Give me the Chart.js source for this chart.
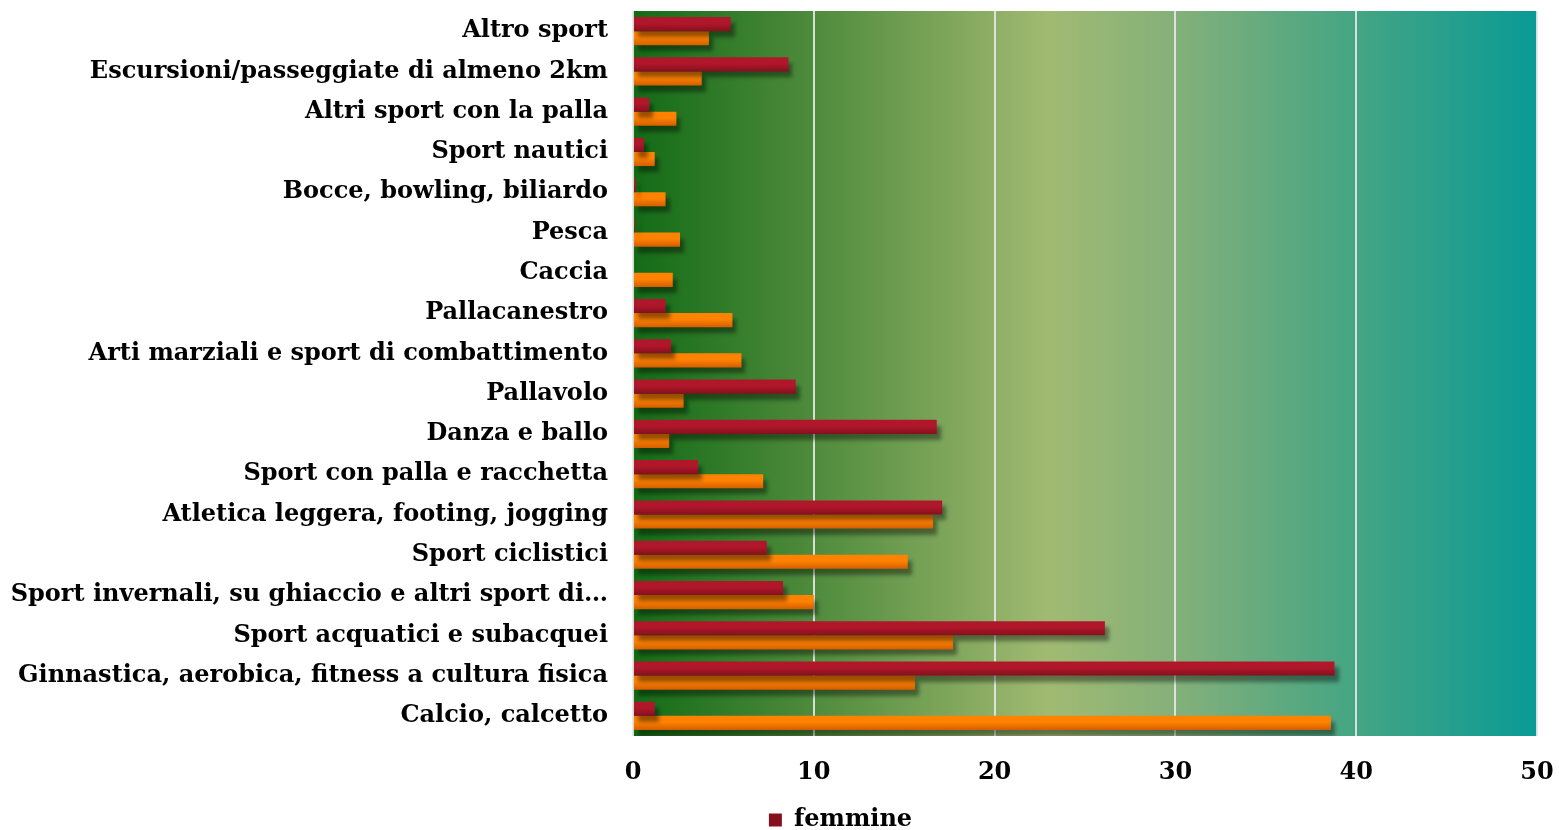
<!DOCTYPE html>
<html>
<head>
<meta charset="utf-8">
<script src="https://cdn.jsdelivr.net/npm/chart.js@4.4.1/dist/chart.umd.min.js"></script>
<style>
  html, body { margin: 0; padding: 0; background: #fff; }
  #wrap { width: 1559px; height: 830px; }
</style>
</head>
<body>
<div id="wrap"><canvas id="myChart" width="1559" height="830"></canvas></div>
<script>
// categories, top to bottom
const categories = [
    'Altro sport',
    'Escursioni/passeggiate di almeno 2km',
    'Altri sport con la palla',
    'Sport nautici',
    'Bocce, bowling, biliardo',
    'Pesca',
    'Caccia',
    'Pallacanestro',
    'Arti marziali e sport di combattimento',
    'Pallavolo',
    'Danza e ballo',
    'Sport con palla e racchetta',
    'Atletica leggera, footing, jogging',
    'Sport ciclistici',
    'Sport invernali, su ghiaccio e altri sport di\u2026',
    'Sport acquatici e subacquei',
    'Ginnastica, aerobica, fitness a cultura fisica',
    'Calcio, calcetto'
];
const femmine = [5.4, 8.6, 0.9, 0.6, 0.15, 0.1, 0, 1.8, 2.1, 9.0, 16.8, 3.6, 17.1, 7.4, 8.3, 26.1, 38.8, 1.2];
const maschi  = [4.2, 3.8, 2.4, 1.2, 1.8, 2.6, 2.2, 5.5, 6.0, 2.8, 2.0, 7.2, 16.6, 15.2, 10.0, 17.7, 15.6, 38.6];
const xTicks = [0, 10, 20, 30, 40, 50];

const labelFont = { family: 'DejaVu Serif', weight: 'bold', size: 24 };
const catPct = 0.7;

// vertical gradient for each bar (lighter top, darker bottom)
function barGradient(top, bottom) {
    return function (context) {
        const chart = context.chart;
        const y = chart.scales.y;
        if (!chart.chartArea || !y) return top;
        const center = y.getPixelForValue(context.dataIndex);
        const half = (y.height / categories.length) * catPct / 2;
        const y0 = context.datasetIndex === 0 ? center - half : center;
        const g = chart.ctx.createLinearGradient(0, y0, 0, y0 + half);
        g.addColorStop(0, top);
        g.addColorStop(0.45, top);
        g.addColorStop(1, bottom);
        return g;
    };
}

// plot background + bar shadows
const plotDecor = {
    id: 'plotDecor',
    beforeDraw(chart) {
        const { ctx, chartArea: a } = chart;
        const g = ctx.createLinearGradient(a.left, 0, a.right, 0);
        g.addColorStop(0, '#136b16');
        g.addColorStop(0.2, '#4f8b3c');
        g.addColorStop(0.46, '#a1ba72');
        g.addColorStop(0.6, '#84b07a');
        g.addColorStop(0.8, '#44a583');
        g.addColorStop(1, '#0a9a96');
        ctx.save();
        ctx.fillStyle = g;
        ctx.fillRect(a.left, a.top, a.right - a.left, a.bottom - a.top);
        ctx.restore();
    },
    beforeDatasetsDraw(chart) {
        const ctx = chart.ctx;
        ctx.save();
        ctx.shadowColor = 'rgba(0, 0, 0, 0.4)';
        ctx.shadowBlur = 4;
        ctx.shadowOffsetX = 4;
        ctx.shadowOffsetY = 6;
    },
    afterDatasetsDraw(chart) {
        chart.ctx.restore();
    },
    afterLayout(chart) {
        // nudge legend like the original
        if (chart.legend) {
            chart.legend.left += 72;
            chart.legend.right += 72;
            chart.legend.top += 12;
            chart.legend.bottom += 12;
        }
    }
};

new Chart(document.getElementById('myChart'), {
    type: 'bar',
    data: {
        labels: categories,
        datasets: [{
            label: 'femmine',
            data: femmine,
            backgroundColor: barGradient('#b0172a', '#85101e')
        }, {
            label: 'maschi',
            data: maschi,
            backgroundColor: barGradient('#ff8200', '#d35e00')
        }]
    },
    options: {
        indexAxis: 'y',
        responsive: false,
        animation: false,
        layout: { padding: { top: 11, right: 22, left: 0, bottom: 0 } },
        datasets: { bar: { categoryPercentage: catPct, barPercentage: 1 } },
        scales: {
            x: {
                min: 0,
                max: 50,
                afterBuildTicks: (scale) => { scale.ticks = xTicks.map(v => ({ value: v })); },
                afterFit: (scale) => {
                    scale.height = 56;
                    scale.paddingLeft = 0;
                    scale.paddingRight = 0;
                },
                grid: { color: 'rgba(232, 232, 232, 0.9)', lineWidth: 2, drawTicks: false },
                border: { display: false },
                ticks: { color: '#000', font: labelFont, padding: 22 }
            },
            y: {
                afterFit: (scale) => {
                    scale.width = 633;
                    scale.paddingTop = 0;
                    scale.paddingBottom = 0;
                },
                grid: { display: false },
                border: { display: false },
                ticks: { color: '#000', font: labelFont, padding: 17, autoSkip: false }
            }
        },
        plugins: {
            tooltip: { enabled: false },
            legend: {
                position: 'bottom',
                labels: {
                    color: '#000',
                    font: labelFont,
                    boxWidth: 13,
                    boxHeight: 13,
                    padding: 4,
                    filter: (item) => item.text === 'femmine'
                }
            }
        }
    },
    plugins: [plotDecor]
});
</script>
</body>
</html>
